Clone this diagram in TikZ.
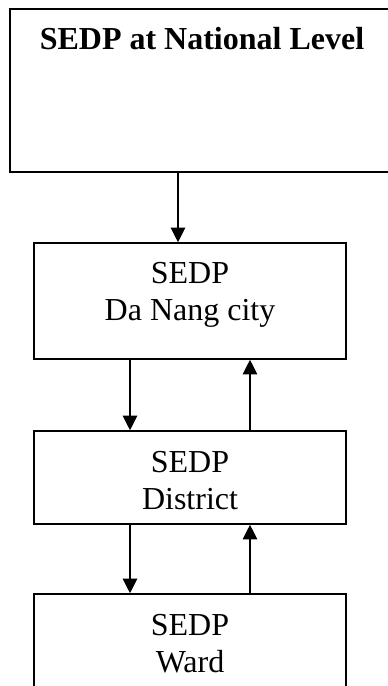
\documentclass[tikz,border=0pt]{standalone}
\usepackage{fontspec}
\setmainfont{Liberation Serif}
\usetikzlibrary{arrows.meta}
\tikzset{
  level box/.style={draw, line width=1.2pt, inner sep=0pt},
  level text/.style={anchor=north, inner sep=0pt, align=center, font=\fontsize{24}{27.75}\selectfont},
  flow/.style={line width=0.9pt, -{Triangle[width=11pt,length=11pt]}}
}
\begin{document}
\begin{tikzpicture}[x=0.75pt,y=-0.75pt]
    \useasboundingbox (0,0) rectangle (388,686);
    \clip (0,0) rectangle (388,686);

    % the four levels
    \node[level box, minimum width=288pt, minimum height=122.25pt] (national) at (202,90.5) {};
    \node[level box, minimum width=234pt, minimum height=87pt] (danang) at (190,301) {};
    \node[level box, minimum width=234pt, minimum height=69.75pt] (district) at (190,477.5) {};
    \node[level box, minimum width=234pt, minimum height=75pt] (ward) at (190,644) {};

    \node[level text] (national text) at ([yshift=-14.25pt]national.north) {\textbf{SEDP at National Level}};
    \node[level text] (danang text) at ([yshift=-15pt]danang.north) {SEDP\\Da Nang city};
    \node[level text] (district text) at ([yshift=-15.75pt]district.north) {SEDP\\District};
    \node[level text] (ward text) at ([yshift=-15.75pt]ward.north) {SEDP\\Ward};

    % plans go down, reports go up
    \draw[flow] ([xshift=-18pt]national.south) -- ([xshift=-9pt]danang.north);
    \draw[flow] ([xshift=-45pt]danang.south) -- ([xshift=-45pt]district.north);
    \draw[flow] ([xshift=45pt]district.north) -- ([xshift=45pt]danang.south);
    \draw[flow] ([xshift=-45pt]district.south) -- ([xshift=-45pt]ward.north);
    \draw[flow] ([xshift=45pt]ward.north) -- ([xshift=45pt]district.south);

\end{tikzpicture}
\end{document}
